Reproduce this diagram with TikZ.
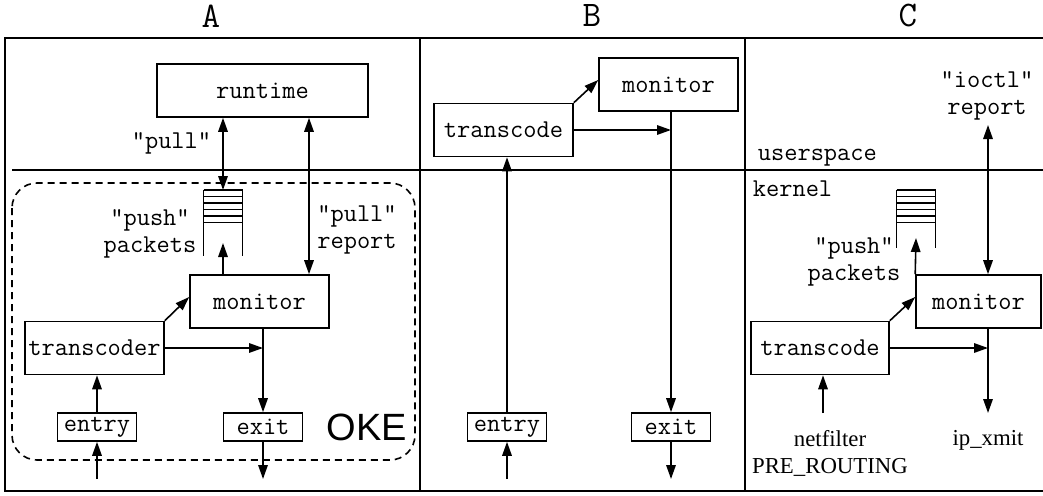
\documentclass[tikz,border=0pt]{standalone}
\usepackage{fontspec}
\setmainfont{Liberation Serif}
\setsansfont{Liberation Sans}

\usetikzlibrary{arrows.meta,positioning}

\newcommand\monotxt{\fontsize{25.7}{27}\ttfamily\selectfont}
% queue of packets: x, top y, side length
\newcommand\pktqueue[3]{%
  \foreach \k in {0,...,5} \draw (#1-19.5,#2+6.5*\k) -- (#1+19.5,#2+6.5*\k);
  \draw (#1-19.5,#2) -- (#1-19.5,#2+#3) (#1+19.5,#2) -- (#1+19.5,#2+#3);
}

\tikzset{
  arr/.style={-{Triangle[length=14pt,width=9.5pt]}},
  dblarr/.style={{Triangle[length=14pt,width=9.5pt]}-{Triangle[length=14pt,width=9.5pt]}},
  blk/.style={draw, inner sep=0pt, minimum width=139pt, minimum height=53pt, font=\monotxt},
  tag/.style={draw, inner sep=0pt, minimum width=79pt, minimum height=28pt, font=\monotxt},
  txt/.style={font=\monotxt, align=center, inner sep=0pt},
  serif/.style={font=\fontsize{22.8}{27}\rmfamily\selectfont, align=center, inner sep=0pt},
  title/.style={font=\fontsize{36}{38}\ttfamily\selectfont, inner sep=0pt}
}

\begin{document}
\begin{tikzpicture}[x=1pt,y=-1pt,line width=1.6pt]
  \useasboundingbox (0,0) rectangle (1043,495);
  % frame
  \draw (1043,38) -- (5,38) -- (5,491) -- (1043,491);
  \draw (420,38) -- (420,491);
  \draw (745,38) -- (745,491);
  \draw (12,170) -- (1043,170);
  \node[title] (tA) at (211,16) {A};
  \node[title] (tB) at (592,16) {B};
  \node[title] (tC) at (908,16) {C};

  % A
  \node[blk, minimum width=211pt] (rtA) at (262.5,90.5) {runtime};
  \node[blk] (monA) at (259.5,301.5) {monitor};
  \node[blk] (tcA) at (94.5,348) {transcoder};
  \node[tag] (enA) at (97,427) {entry};
  \node[tag] (exA) at (263,427) {exit};
  \pktqueue{223}{190}{66}
  \coordinate (qA) at (223,190);
  \coordinate (qinA) at (223,243);
  \coordinate (rpA) at (309,200);
  \coordinate (inA) at (97,479);
  \coordinate (outA) at (263,479);
  \draw[dblarr] (rtA.south -| qA) -- (qA);
  \draw[arr] (monA.north -| qinA) -- (qinA);
  \draw[dblarr] (rtA.south -| rpA) -- (monA.north -| rpA);
  \draw[arr] (tcA.north east) -- ([yshift=4.5pt]monA.west);
  \draw[arr] (tcA.east) -- (tcA.east -| exA.north);
  \draw[arr] (monA.south -| exA.north) -- (exA.north);
  \draw[arr] (enA.north) -- (tcA.south -| enA.north);
  \draw[arr] (inA) -- (enA.south);
  \draw[arr] (exA.south) -- (outA);
  \node[txt, anchor=east] (pullA) at (212,143) {"pull"};
  \node[txt] (pushA) at (150,234) {"push"\\packets};
  \node[txt] (repA) at (357,230) {"pull"\\report};
  \draw[dash pattern=on 7pt off 5pt, rounded corners=25pt] (12,183) rectangle (415,460);
  \node[font=\fontsize{38}{40}\sffamily\selectfont, inner sep=0pt] (oke) at (367,427) {OKE};

  % B
  \node[blk] (monB) at (668.5,84.5) {monitor};
  \node[blk] (tcB) at (503.5,130) {transcode};
  \node[tag] (enB) at (507,427) {entry};
  \node[tag] (exB) at (671,427) {exit};
  \coordinate (inB) at (507,479);
  \coordinate (outB) at (671,479);
  \draw[arr] (tcB.north east) -- ([yshift=4.5pt]monB.west);
  \draw[arr] (tcB.east) -- (tcB.east -| exB.north);
  \draw[arr] (monB.south -| exB.north) -- (exB.north);
  \draw[arr] (enB.north) -- (tcB.south -| enB.north);
  \draw[arr] (inB) -- (enB.south);
  \draw[arr] (exB.south) -- (outB);

  % C
  \node[blk, minimum width=125pt] (monC) at (978.5,301.5) {monitor};
  \node[blk, minimum width=138pt] (tcC) at (820,348) {transcode};
  \pktqueue{916}{190}{58}
  \coordinate (qinC) at (916,238);
  \coordinate (ioC) at (988,125);
  \coordinate (ipC) at (988,413);
  \coordinate (nfC) at (823,413);
  \draw[arr] (monC.north west) -- (qinC);
  \draw[dblarr] (ioC) -- (monC.north -| ioC);
  \draw[arr] (tcC.north east) -- ([yshift=4.5pt]monC.west);
  \draw[arr] (tcC.east) -- (tcC.east -| ioC);
  \draw[arr] (monC.south -| ipC) -- (ipC);
  \draw[arr] (nfC) -- (tcC.south -| nfC);
  \node[txt] (ioctl) at (987,96) {"ioctl"\\report};
  \node[txt, anchor=west] (usr) at (757,158) {userspace};
  \node[txt, anchor=west] (krn) at (752,189) {kernel};
  \node[txt] (pushC) at (854,262) {"push"\\packets};
  \node[serif] (nf) at (830,453) {netfilter\\PRE\_ROUTING};
  \node[serif] (ip) at (988,440) {ip\_xmit};
\end{tikzpicture}
\end{document}
